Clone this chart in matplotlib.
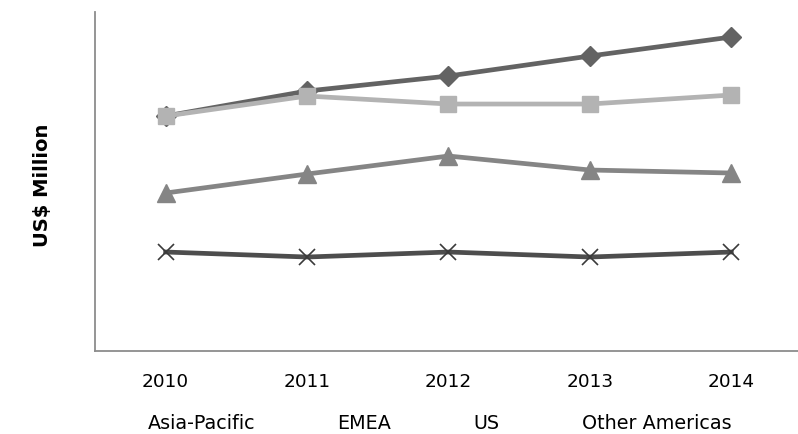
import matplotlib
matplotlib.use("Agg")
import matplotlib.pyplot as plt
from matplotlib.lines import Line2D

# regional revenue, US$ million
years = ["2010", "2011", "2012", "2013", "2014"]
asia_pacific = [2350, 2600, 2750, 2950, 3140]
emea = [2350, 2550, 2470, 2470, 2560]
us = [1580, 1770, 1950, 1810, 1780]
other_americas = [990, 940, 990, 940, 990]
series_names = ["Asia-Pacific", "EMEA", "US", "Other Americas"]

plt.rcParams['font.family'] = ['DejaVu Sans']

fig = plt.figure(figsize=(7.98, 4.34), dpi=100)
ax = fig.add_axes([0.119, 0.1912, 0.886, 0.7811])

x = list(range(len(years)))

ax.plot(x, asia_pacific, color='#636363', lw=3.4, marker='D', markersize=10,
        markerfacecolor='#636363', markeredgecolor='#636363', zorder=3)
ax.plot(x, emea, color='#b3b3b3', lw=3.4, marker='s', markersize=11,
        markerfacecolor='#b3b3b3', markeredgecolor='#b3b3b3', zorder=4)
ax.plot(x, us, color='#858585', lw=3.4, marker='^', markersize=12.5,
        markerfacecolor='#858585', markeredgecolor='#858585', zorder=5)
ax.plot(x, other_americas, color='#4d4d4d', lw=3.4, marker='x', markersize=12,
        markeredgewidth=1.2, markeredgecolor='#3a3a3a', zorder=6)

ax.set_xlim(-0.5, len(years) - 0.5)
ax.set_ylim(0, 3390)
ax.set_xticks(x)
ax.set_xticklabels(years, fontsize=13.3)
ax.set_yticks([])
ax.tick_params(axis='x', length=0, pad=16)

for side in ['top', 'right']:
    ax.spines[side].set_visible(False)
for side in ['left', 'bottom']:
    ax.spines[side].set_color('#8c8c8c')
    ax.spines[side].set_linewidth(1.3)

fig.text(0.053, 0.574, "US$ Million", rotation=90, fontsize=14,
         fontweight='bold', ha='center', va='center')

# legend without keys, just the series names
handles = [Line2D([], [], linestyle='none', marker='none') for _ in series_names]
fig.legend(handles, series_names, loc='center', bbox_to_anchor=(0.551, 0.024),
           ncol=4, frameon=False, fontsize=13.8, handlelength=0,
           handletextpad=0, columnspacing=4.3)

fig.savefig("out.png", dpi=100)
